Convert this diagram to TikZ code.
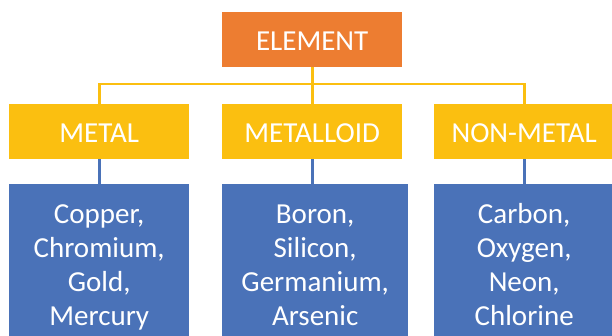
\documentclass[tikz,border=0pt]{standalone}
\usepackage{fontspec}
\setmainfont{Carlito}
\definecolor{orangeC}{HTML}{ED7D31}
\definecolor{yellowC}{HTML}{FBBF10}
\definecolor{blueC}{HTML}{4A72B8}
\begin{document}
\begin{tikzpicture}[x=1pt,y=-1pt,
  topbox/.style={fill=orangeC, draw=none, anchor=north west, minimum width=180pt, minimum height=55pt, inner sep=0pt, text=white, font=\fontsize{29}{34}\selectfont, text height=22pt, text depth=0pt},
  midbox/.style={fill=yellowC, draw=none, anchor=north west, minimum width=180pt, minimum height=55pt, inner sep=0pt, text=white, font=\fontsize{29}{34}\selectfont, text height=22pt, text depth=0pt},
  leafbox/.style={fill=blueC, draw=none, anchor=north west, minimum height=180pt, inner sep=0pt},
  leaftext/.style={anchor=north, inner sep=0pt, align=center, text=white, font=\fontsize{29}{34}\selectfont},
  yline/.style={draw=yellowC, line width=2.6pt},
  bline/.style={draw=blueC, line width=2.6pt}]
\useasboundingbox (0,0) rectangle (612,335);
\clip (0,0) rectangle (612,335);
\node[topbox] (element) at (222,12) {ELEMENT};
\node[midbox] (metal) at (9,104) {METAL};
\node[midbox] (metalloid) at (222,104) {METALLOID};
\node[midbox] (nonmetal) at (434,104) {NON-METAL};
\node[leafbox, minimum width=180pt] (metalb) at (9,184) {};
\node[leafbox, minimum width=186pt] (metalloidb) at (222,184) {};
\node[leafbox, minimum width=180pt] (nonmetalb) at (434,184) {};
\node[leaftext] (metalt) at (metalb.north |- 0,203) {\rule{0pt}{20pt}Copper,\\Chromium,\\Gold,\\Mercury};
\node[leaftext] (metalloidt) at (metalloidb.north |- 0,203) {\rule{0pt}{20pt}Boron,\\Silicon,\\Germanium,\\Arsenic};
\node[leaftext] (nonmetalt) at (nonmetalb.north |- 0,203) {\rule{0pt}{20pt}Carbon,\\Oxygen,\\Neon,\\Chlorine};
\coordinate (j) at (element.south |- 0,84);
\draw[yline] (element.south) -- (metalloid.north);
\draw[yline] (j) -| (metal.north);
\draw[yline] (j) -| (nonmetal.north);
\draw[bline] (metal.south) -- (metalb.north);
\draw[bline] (metalloid.south) -- (metalloid.south |- metalloidb.north);
\draw[bline] (nonmetal.south) -- (nonmetalb.north);
\end{tikzpicture}
\end{document}
